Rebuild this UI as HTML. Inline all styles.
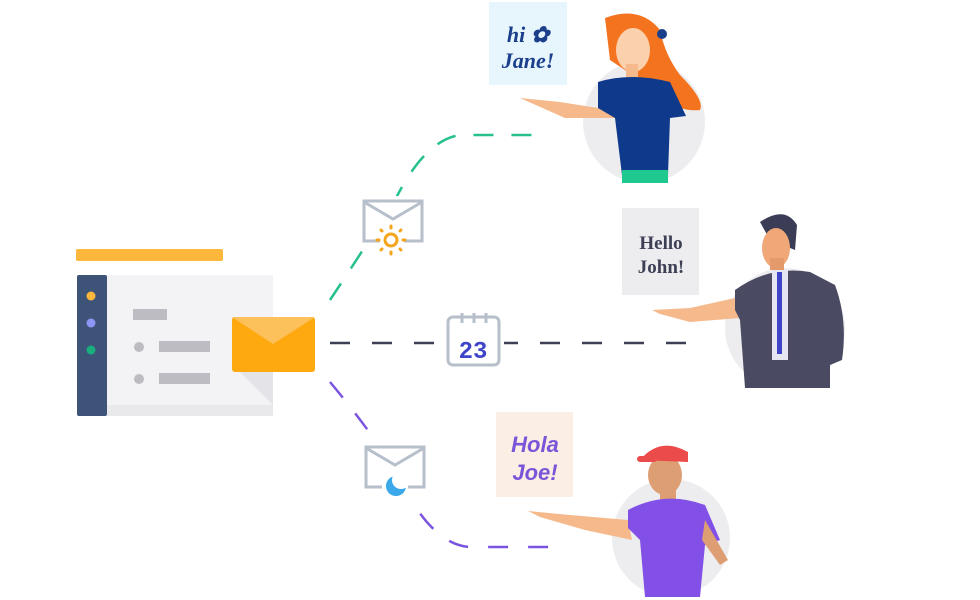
<!DOCTYPE html>
<html><head><meta charset="utf-8"><style>
html,body{margin:0;padding:0;background:#fff;width:980px;height:600px;overflow:hidden}
svg{display:block}
</style></head><body>
<svg width="980" height="600" viewBox="0 0 980 600" xmlns="http://www.w3.org/2000/svg">
<rect x="76" y="249" width="147" height="12" rx="2" fill="#fdb73c"/>
<rect x="77" y="275" width="196" height="141" fill="#f3f3f5"/>
<rect x="107" y="405" width="166" height="11" fill="#e9e9ec"/>
<rect x="77" y="275" width="30" height="141" rx="2" fill="#3d5478"/>
<circle cx="91" cy="296" r="4.5" fill="#fdb73c"/>
<circle cx="91" cy="323" r="4.5" fill="#8d95f5"/>
<circle cx="91" cy="350" r="4.5" fill="#1aae7c"/>
<rect x="133" y="309" width="34" height="11" fill="#bcbcc2"/>
<circle cx="139" cy="347" r="5" fill="#bcbcc2"/>
<rect x="159" y="341" width="51" height="11" fill="#bcbcc2"/>
<circle cx="139" cy="379" r="5" fill="#bcbcc2"/>
<rect x="159" y="373" width="51" height="11" fill="#bcbcc2"/>
<polygon points="240,372 273,372 273,405" fill="#e4e4e8"/>
<rect x="232" y="317" width="83" height="55" rx="3" fill="#fda90f"/>
<polygon points="232,317 315,317 273,344" fill="#fdc15c"/>
<path d="M330,300 Q360,255 395,200 Q425,140 460,135 L540,135" fill="none" stroke="#27c08f" stroke-width="2.5" stroke-dasharray="20,18"/>
<path d="M330,343 L692,343" fill="none" stroke="#3d3f55" stroke-width="2.5" stroke-dasharray="20,22"/>
<path d="M330,382 Q370,430 395,470 Q430,545 470,547 L555,547" fill="none" stroke="#7b55e0" stroke-width="2.5" stroke-dasharray="20,20"/>
<rect x="360" y="196" width="66" height="50" fill="#fff"/>
<path d="M380,241 L364,241 L364,201 L422,201 L422,241 L404,241" fill="none" stroke="#b7bfcb" stroke-width="3"/>
<path d="M364,202 L393,219 L422,202" fill="none" stroke="#b7bfcb" stroke-width="3"/>
<circle cx="391" cy="240" r="6" fill="none" stroke="#f5a51c" stroke-width="3"/>
<g stroke="#f5a51c" stroke-width="3" stroke-linecap="round">
<line x1="391" y1="226" x2="391" y2="228"/><line x1="391" y1="252" x2="391" y2="254"/>
<line x1="377" y1="240" x2="379" y2="240"/><line x1="403" y1="240" x2="405" y2="240"/>
<line x1="381" y1="230" x2="382" y2="231"/><line x1="400" y1="249" x2="401" y2="250"/>
<line x1="381" y1="250" x2="382" y2="249"/><line x1="400" y1="231" x2="401" y2="230"/>
</g>
<rect x="442" y="308" width="62" height="62" fill="#fff"/>
<rect x="448" y="317" width="51" height="48" rx="5" fill="#fff" stroke="#b7bfcb" stroke-width="3"/>
<g stroke="#b7bfcb" stroke-width="3"><line x1="462" y1="313" x2="462" y2="323"/><line x1="474" y1="313" x2="474" y2="323"/><line x1="486" y1="313" x2="486" y2="323"/></g>
<text x="473" y="358" text-anchor="middle" font-family="Liberation Mono, monospace" font-weight="bold" font-size="24" fill="#3f45c8">23</text>
<rect x="362" y="443" width="66" height="56" fill="#fff"/>
<path d="M382,487 L366,487 L366,447 L424,447 L424,487 L408,487" fill="none" stroke="#b7bfcb" stroke-width="3"/>
<path d="M366,448 L395,465 L424,448" fill="none" stroke="#b7bfcb" stroke-width="3"/>
<circle cx="396" cy="486" r="10" fill="#3ba8ea"/>
<circle cx="401" cy="480" r="9" fill="#fff"/>
<rect x="489" y="2" width="78" height="83" fill="#e7f5fd"/>
<text x="528" y="42" text-anchor="middle" font-family="Liberation Serif, serif" font-style="italic" font-weight="bold" font-size="22" fill="#1b3f8a">hi ✿</text>
<text x="528" y="68" text-anchor="middle" font-family="Liberation Serif, serif" font-style="italic" font-weight="bold" font-size="22" fill="#1b3f8a">Jane!</text>
<rect x="622" y="208" width="77" height="87" fill="#ededef"/>
<text x="661" y="249" text-anchor="middle" font-family="Liberation Serif, serif" font-weight="bold" font-size="19" fill="#3d3f55">Hello</text>
<text x="661" y="273" text-anchor="middle" font-family="Liberation Serif, serif" font-weight="bold" font-size="19" fill="#3d3f55">John!</text>
<rect x="496" y="412" width="77" height="85" fill="#fbeee4"/>
<text x="535" y="452" text-anchor="middle" font-family="Liberation Sans, sans-serif" font-style="italic" font-weight="bold" font-size="22" fill="#7a55d8">Hola</text>
<text x="535" y="480" text-anchor="middle" font-family="Liberation Sans, sans-serif" font-style="italic" font-weight="bold" font-size="22" fill="#7a55d8">Joe!</text>
<circle cx="644" cy="122" r="61" fill="#ededf0"/>
<path d="M520,98 L560,102 L598,108 L610,96 L615,118 L565,118 Z" fill="#f5b98c"/>
<path d="M605,18 Q640,5 660,30 Q665,55 680,75 Q705,100 700,110 Q680,112 670,100 L640,80 L610,60 Z" fill="#f4731f"/>
<ellipse cx="633" cy="50" rx="17" ry="22" fill="#fbd0ac"/>
<rect x="626" y="64" width="12" height="14" fill="#f5b98c"/>
<path d="M598,82 Q630,72 670,82 L686,116 L670,118 L668,175 L622,175 L615,118 L598,108 Z" fill="#0f3a8c"/>
<rect x="622" y="170" width="46" height="13" fill="#1fc88f"/>
<circle cx="662" cy="34" r="5" fill="#1b3f8a"/>
<circle cx="785" cy="328" r="60" fill="#ededf0"/>
<path d="M652,310 L690,308 L735,298 L740,318 L690,322 L660,314 Z" fill="#f5b98c"/>
<path d="M760,222 Q785,205 797,225 L795,250 L770,240 Z" fill="#3a3d55"/>
<ellipse cx="776" cy="248" rx="14" ry="20" fill="#f0a878"/>
<rect x="770" y="258" width="14" height="12" fill="#e49a6b"/>
<path d="M735,290 Q770,265 810,272 L835,285 Q848,320 842,360 L830,365 L830,388 L745,388 L740,320 L735,310 Z" fill="#4a4b63"/>
<rect x="772" y="270" width="16" height="90" fill="#e6e6f2"/>
<rect x="777" y="272" width="5" height="82" fill="#3f45c8"/>
<circle cx="671" cy="538" r="59" fill="#ededf0"/>
<path d="M528,511 L570,515 L628,520 L632,540 L585,530 L540,517 Z" fill="#f5b98c"/>
<ellipse cx="665" cy="475" rx="17" ry="20" fill="#dd9e74"/>
<path d="M640,460 Q660,436 688,452 L688,462 Z" fill="#ec4b4b"/>
<rect x="637" y="456" width="20" height="6" rx="3" fill="#ec4b4b"/>
<rect x="660" y="488" width="16" height="12" fill="#dd9e74"/>
<path d="M628,510 Q665,490 705,505 L720,540 L705,545 L700,597 L645,597 L640,540 L628,528 Z" fill="#8250e6"/>
<path d="M705,520 L728,560 L720,565 L702,540 Z" fill="#dd9e74"/>
</svg>
</body></html>
